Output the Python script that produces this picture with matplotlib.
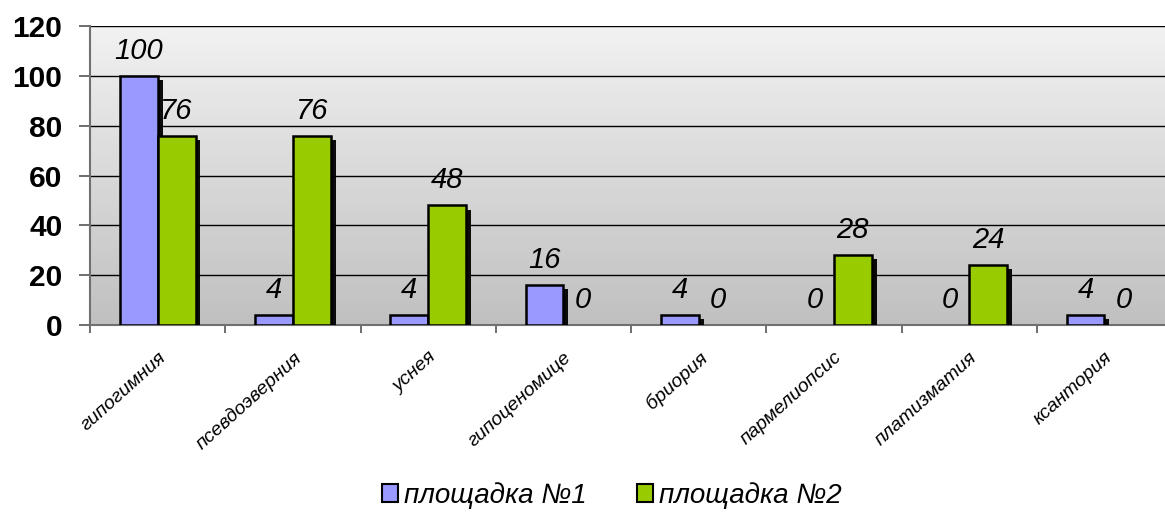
import numpy as np
import matplotlib.pyplot as plt
import matplotlib.patheffects as pe
from matplotlib.colors import LinearSegmentedColormap
from matplotlib.patches import Patch

plt.rcParams['font.family'] = ['Liberation Sans', 'DejaVu Sans']

# Data
species = ['гипогимния', 'псевдоэверния', 'уснея', 'гипоценомице',
           'бриория', 'пармелиопсис', 'платизматия', 'ксантория']
site1 = [100, 4, 4, 16, 4, 0, 0, 4]
site2 = [76, 76, 48, 0, 0, 28, 24, 0]
series_names = ['площадка №1', 'площадка №2']
colors = ['#9999ff', '#99cc00']
yticks = [0, 20, 40, 60, 80, 100, 120]

fig = plt.figure(figsize=(11.65, 5.12), dpi=100)
ax = fig.add_axes([0.0773, 0.3652, 0.9288, 0.584])

# gray gradient background of the plot area (light at top)
grad = np.linspace(0, 1, 256).reshape(-1, 1)
cmap = LinearSegmentedColormap.from_list('bg', ['#f2f2f2', '#c0c0c0'])
ax.imshow(grad, extent=[0, 1, 0, 1], transform=ax.transAxes, aspect='auto',
          cmap=cmap, zorder=0)

x = np.arange(len(species))
w = 0.28
shadow = [pe.SimplePatchShadow(offset=(3.5, -3), shadow_rgbFace='black', alpha=0.95),
          pe.Normal()]
b1 = ax.bar(x - w / 2, site1, w, color=colors[0], edgecolor='black', linewidth=1.8,
            zorder=3)
b2 = ax.bar(x + w / 2, site2, w, color=colors[1], edgecolor='black', linewidth=1.8,
            zorder=3)
for bars, vals in ((b1, site1), (b2, site2)):
    for b, v in zip(bars, vals):
        b.set_path_effects(shadow)
        if v == 0:
            b.set_visible(False)
        ax.annotate(str(v), (b.get_x() + b.get_width() / 2, v), xytext=(0, 8),
                    textcoords='offset points', ha='center', va='bottom',
                    fontsize=21, style='italic', zorder=5)

ax.set_xlim(-0.5, len(species) - 0.5)
ax.set_ylim(0, 120)
ax.set_yticks(yticks)
ax.set_yticklabels([str(t) for t in yticks], fontsize=21.5, fontweight='bold')
ax.yaxis.grid(True, color='black', linewidth=1, zorder=1)
ax.set_axisbelow(True)

ax.set_xticks(x)
ax.set_xticklabels(species, rotation=42, ha='right', rotation_mode='anchor',
                   fontsize=14, style='italic')
ax.tick_params(axis='x', length=0, pad=17)
ax.set_xticks(np.arange(-0.5, len(species), 1), minor=True)
ax.tick_params(axis='x', which='minor', length=6, color='#555555', width=1.2)
ax.tick_params(axis='y', length=8, color='#555555', width=1.2, pad=12)

for s in ['top', 'right']:
    ax.spines[s].set_visible(False)
for s in ['left', 'bottom']:
    ax.spines[s].set_color('#707070')
    ax.spines[s].set_linewidth(1.5)

handles = [Patch(facecolor=c, edgecolor='black', linewidth=1.5) for c in colors]
fig.legend(handles=handles, labels=series_names, loc='center',
           bbox_to_anchor=(0.525, 0.033), ncol=2, frameon=False,
           prop={'size': 20, 'style': 'italic'}, handlelength=0.6,
           handleheight=0.6, handletextpad=0.2, columnspacing=1.8)

fig.savefig('out.png', dpi=100)
